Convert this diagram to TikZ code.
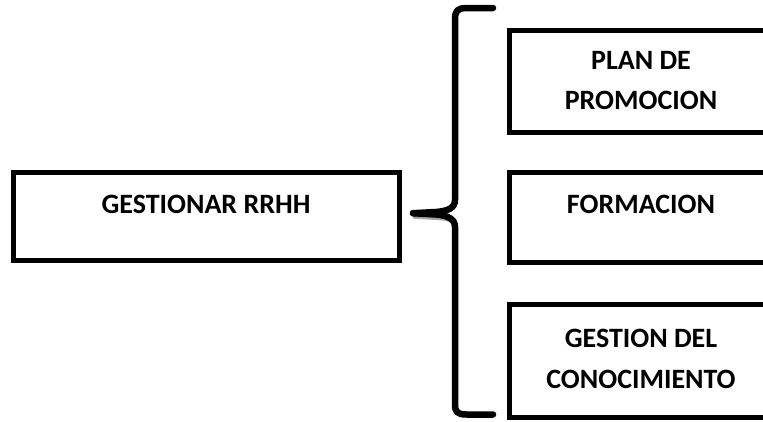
\documentclass[tikz,border=0pt]{standalone}
\usepackage{fontspec}
\setmainfont{Carlito}
\usetikzlibrary{calc}
\begin{document}
\begin{tikzpicture}[x=1pt,y=-1pt,
  box/.style={draw=black, line width=5.5pt, rectangle, inner sep=0pt},
  subbox/.style={draw=black, line width=5pt, rectangle, inner sep=0pt},
  boxtext/.style={font=\fontsize{28}{40.5}\selectfont\bfseries, align=center, inner sep=0pt, anchor=base},
  bracestroke/.style={draw=black, line width=6.5pt, line cap=round, line join=round},
  braceshadow/.style={draw=black!35, line width=3pt, line cap=round}
]
\useasboundingbox (0,0) rectangle (763,421);
\fill[white] (0,0) rectangle (763,421);

% main process box
\node[box, minimum width=386pt, minimum height=88pt] (hr) at (206.5,216.5) {};
\node[boxtext] (hrtext) at (206,213.5) {GESTIONAR RRHH};

% sub-process boxes (open to the right edge)
\node[subbox, minimum width=264pt, minimum height=102.5pt] (plan) at (641,81.25) {};
\node[subbox, minimum width=264pt, minimum height=89.5pt] (form) at (641,217.25) {};
\node[subbox, minimum width=264pt, minimum height=113pt] (gest) at (641,361) {};

% two-line labels are placed by the baseline of their last line
\node[boxtext] (plantext) at (641,109.5) {PLAN DE\\PROMOCION};
\node[boxtext] (formtext) at (641,213) {FORMACION};
\node[boxtext] (gesttext) at (641,388) {GESTION DEL\\CONOCIMIENTO};

% curly brace grouping the sub-processes
\coordinate (tip) at (413,213.2);
\coordinate (bracetop) at (493,8);
\coordinate (bracebot) at (493,414.5);
\draw[braceshadow] ($(tip)+(1,4)$) -- (436,218.5) .. controls (446,219) and (452,220) .. (455,224);
\draw[bracestroke] (bracetop) -- (467,8) .. controls (457,8) and (455,11) .. (455,20)
  -- (455,200) .. controls (455,208) and (448,211) .. (436,212) -- (tip);
\draw[bracestroke] (tip) -- (436,214.5) .. controls (448,215.5) and (455,219) .. (455,227)
  -- (455,404) .. controls (455,412) and (457,414.5) .. (467,414.5) -- (bracebot);
\end{tikzpicture}
\end{document}
